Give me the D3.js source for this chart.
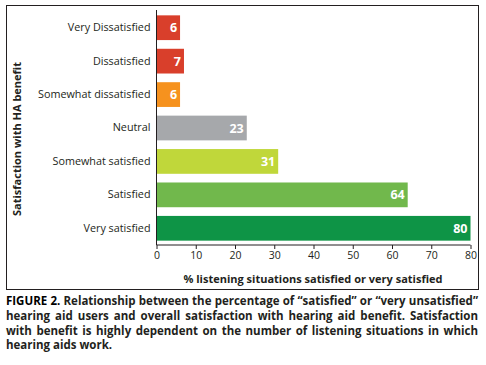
<!DOCTYPE html>
<html><head><meta charset="utf-8">
<script src="https://cdn.jsdelivr.net/npm/d3@7"></script>
<style>body{margin:0;background:#fff;} svg{display:block;}</style>
</head><body>
<script>
const categories = ["Very Dissatisfied","Dissatisfied","Somewhat dissatisfied","Neutral","Somewhat satisfied","Satisfied","Very satisfied"];
const values = [6,7,6,23,31,64,80];
const colors = ["#d93f2b","#d93f2b","#f6921e","#a6a8ab","#c0d73a","#71b84c","#0e9446"];
const xTicks = [0,10,20,30,40,50,60,70,80];
const xTitle = "% listening situations satisfied or very satisfied";
const yTitle = "Satisfaction with HA benefit";
const captionLines = [
  ["FIGURE 2.", " Relationship between the percentage of \u201csatisfied\u201d or \u201cvery unsatisfied\u201d"],
  ["", "hearing aid users and overall satisfaction with hearing aid benefit. Satisfaction"],
  ["", "with benefit is highly dependent on the number of listening situations in which"],
  ["", "hearing aids work."]
];

const W = 486, H = 365;
const font = "'Open Sans', sans-serif";
const svg = d3.select("body").append("svg").attr("width", W).attr("height", H);

svg.append("rect").attr("x", 6.5).attr("y", 5.5).attr("width", 472).attr("height", 284)
  .attr("fill", "none").attr("stroke", "#231f20").attr("stroke-width", 1);

const x = d3.scaleLinear().domain([0, 80]).range([156.5, 470.5]);
const y = d3.scaleBand().domain(categories).range([11, 245]).paddingInner(0.26).paddingOuter(0.13);

svg.selectAll("rect.bar").data(categories).join("rect").attr("class","bar")
  .attr("x", x(0)).attr("y", d => y(d))
  .attr("width", (d,i) => x(values[i]) - x(0)).attr("height", y.bandwidth())
  .attr("fill", (d,i) => colors[i]);

svg.selectAll("text.val").data(categories).join("text").attr("class","val")
  .attr("x", (d,i) => x(values[i]) - 3).attr("y", d => y(d) + y.bandwidth()/2)
  .attr("dy", "0.36em").attr("text-anchor", "end")
  .attr("font-family", font).attr("font-weight", "bold").attr("font-size", 12.5)
  .attr("fill", "#fff").text((d,i) => values[i]);

const yAxis = svg.append("g").attr("transform", `translate(${x(0)},0)`)
  .call(d3.axisLeft(y).tickSize(0).tickPadding(6));
yAxis.select(".domain").attr("stroke", "#231f20").attr("d", "M0,10V245");
yAxis.selectAll("text").attr("font-family", font).attr("font-size", 10.8).attr("fill", "#231f20");

const xAxis = svg.append("g").attr("transform", "translate(0,245)")
  .call(d3.axisBottom(x).tickValues(xTicks).tickSize(4).tickPadding(3));
xAxis.select(".domain").attr("stroke", "#231f20").attr("d", `M${x(0)},0H${x(80)}`);
xAxis.selectAll("line").attr("stroke", "#231f20");
xAxis.selectAll("text").attr("font-family", font).attr("font-size", 10.5).attr("fill", "#231f20");

svg.append("text").attr("x", 313).attr("y", 283).attr("text-anchor", "middle")
  .attr("font-family", font).attr("font-weight", "bold").attr("font-size", 11).attr("fill", "#231f20")
  .text(xTitle);

svg.append("text").attr("transform", "translate(21,139) rotate(-90)").attr("text-anchor", "middle")
  .attr("font-family", font).attr("font-weight", "bold").attr("font-size", 11).attr("fill", "#231f20")
  .text(yTitle);

// caption with justified lines
const capLeft = 6, capRight = 478;
captionLines.forEach((ln, i) => {
  const t = svg.append("text").attr("x", capLeft).attr("y", 305 + i*14.8)
    .attr("font-family", font).attr("font-weight", "bold").attr("font-size", 11.5).attr("fill", "#231f20");
  if (ln[0]) t.append("tspan").attr("fill", "#000").text(ln[0]);
  t.append("tspan").text(ln[1]);
  if (i < captionLines.length - 1) {
    const len = t.node().getComputedTextLength();
    const full = ln[0] + ln[1];
    const gaps = (full.match(/ /g) || []).length;
    if (gaps > 0) t.attr("word-spacing", (capRight - capLeft - len) / gaps);
  }
});
</script>
</body></html>
